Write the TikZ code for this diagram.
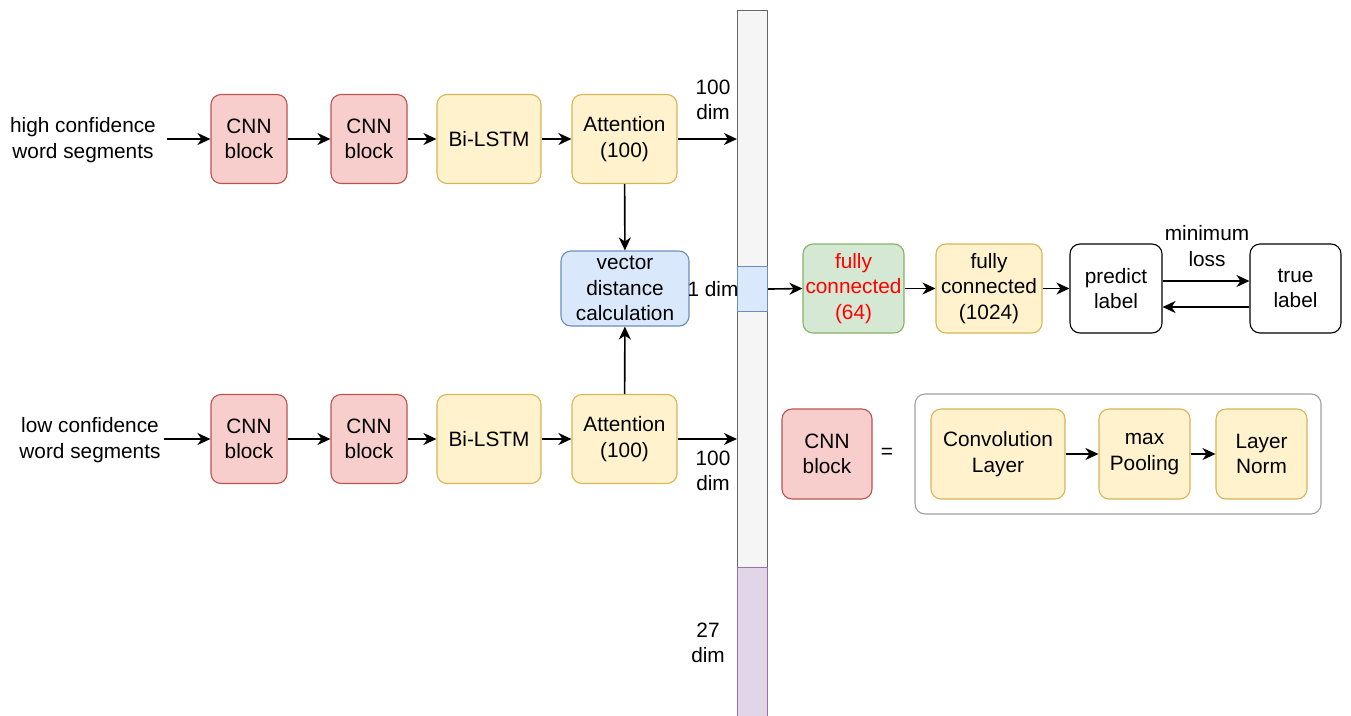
\documentclass[tikz,border=0pt]{standalone}
\usepackage{fontspec}
\setmainfont{Liberation Sans}
\usetikzlibrary{arrows.meta}
\definecolor{redF}{HTML}{F8CECC}\definecolor{redS}{HTML}{B85450}
\definecolor{yelF}{HTML}{FFF2CC}\definecolor{yelS}{HTML}{D6B656}
\definecolor{bluF}{HTML}{DAE8FC}\definecolor{bluS}{HTML}{6C8EBF}
\definecolor{grnF}{HTML}{D5E8D4}\definecolor{grnS}{HTML}{82B366}
\definecolor{purF}{HTML}{E1D5E7}\definecolor{purS}{HTML}{9673A6}
\definecolor{barF}{HTML}{F5F5F5}\definecolor{barS}{HTML}{666666}
\definecolor{boxS}{HTML}{A0A0A0}
\begin{document}
\begin{tikzpicture}[x=1pt,y=-1pt,
  font=\fontsize{20.8}{25.5}\selectfont,
  box/.style={draw, line width=1.1pt, rounded corners=10pt, align=center, inner sep=0pt},
  redbox/.style={box, fill=redF, draw=redS, minimum width=76pt, minimum height=89pt},
  yelbox/.style={box, fill=yelF, draw=yelS, minimum height=89pt},
  blubox/.style={box, fill=bluF, draw=bluS},
  grnbox/.style={box, fill=grnF, draw=grnS},
  whtbox/.style={box, draw=black, fill=white},
  lbl/.style={align=center, inner sep=0pt},
  seg/.style={draw, line width=1.1pt, inner sep=0pt, minimum width=30pt},
  arr/.style={-{Stealth[length=13pt,width=12pt,inset=4pt]}, line width=1.6pt}
]
\useasboundingbox (0,0) rectangle (1351,715);
\clip (0,0) rectangle (1351,715);
% bar
\node[seg, fill=barF, draw=barS, minimum height=720pt, anchor=north west] (bar) at (737,10) {};
\node[seg, fill=bluF, draw=bluS, minimum height=45pt, anchor=north west] (seg1) at (737,266) {};
\node[seg, fill=purF, draw=purS, minimum height=160pt, anchor=north west] (seg27) at (737,567) {};
% top row
\node[lbl] (hi) at (83,140) {high confidence\\word segments};
\node[redbox] (c1) at (249,139) {CNN\\block};
\node[redbox] (c2) at (369,139) {CNN\\block};
\node[yelbox, minimum width=104pt] (l1) at (489,139) {Bi-LSTM};
\node[yelbox, minimum width=105pt] (a1) at (624.5,139) {Attention\\(100)};
% bottom row
\node[lbl] (lo) at (90,440) {low confidence\\word segments};
\node[redbox] (c3) at (249,439) {CNN\\block};
\node[redbox] (c4) at (369,439) {CNN\\block};
\node[yelbox, minimum width=104pt] (l2) at (489,439) {Bi-LSTM};
\node[yelbox, minimum width=105pt] (a2) at (624.5,439) {Attention\\(100)};
% vector distance
\node[blubox, minimum width=128pt, minimum height=75pt] (vd) at (625,288.5) {vector\\distance\\calculation};
% labels near bar
\node[lbl] (d100a) at (713,100) {100\\dim};
\node[lbl] (d100b) at (713,471) {100\\dim};
\node[lbl] (d1) at (713,289) {1 dim};
\node[lbl] (d27) at (708,643) {27\\dim};
% right part
\node[grnbox, minimum width=101pt, minimum height=89pt, text=red] (fc1) at (853.5,288.5) {fully\\connected\\(64)};
\node[yelbox, minimum width=106pt] (fc2) at (989,288.5) {fully\\connected\\(1024)};
\node[whtbox, minimum width=92pt, minimum height=89pt] (pl) at (1116,288.5) {predict\\label};
\node[whtbox, minimum width=91pt, minimum height=89pt] (tl) at (1295.5,288.5) {true\\label};
\node[lbl] (ml) at (1207,246) {minimum\\loss};
% legend
\node[redbox, minimum width=90pt, minimum height=90pt] (lg) at (827,454) {CNN\\block};
\node[lbl] (eq) at (887,453) {=};
\node[box, draw=boxS, fill=none, minimum width=406pt, minimum height=120pt] (cont) at (1118,454) {};
\node[yelbox, minimum width=134pt, minimum height=90pt] (cv) at (998,454) {Convolution\\Layer};
\node[yelbox, minimum width=91pt, minimum height=90pt] (mp) at (1144.5,454) {max\\Pooling};
\node[yelbox, minimum width=91pt, minimum height=90pt] (ln) at (1261.5,454) {Layer\\Norm};
% arrows top
\draw[arr] (hi.east |- c1.west) ++(11,0) coordinate (hs) -- (c1.west);
\draw[arr] (c1) -- (c2);
\draw[arr] (c2) -- (l1);
\draw[arr] (l1) -- (a1);
\draw[arr] (a1.east) -- (a1.east -| bar.west);
\draw[arr] (a1) -- (vd);
% arrows bottom
\draw[arr] (lo.east |- c3.west) ++(3,0) coordinate (ls) -- (c3.west);
\draw[arr] (c3) -- (c4);
\draw[arr] (c4) -- (l2);
\draw[arr] (l2) -- (a2);
\draw[arr] (a2.east) -- (a2.east -| bar.west);
\draw[arr] (a2) -- (vd);
% right arrows
\draw[arr] (seg1.east) -- (fc1.west);
\draw[arr] (fc1) -- (fc2);
\draw[arr] (fc2) -- (pl);
\draw[arr] (pl.east |- 0,281) -- (tl.west |- 0,281);
\draw[arr] (tl.west |- 0,307) -- (pl.east |- 0,307);
\draw[arr] (cv) -- (mp);
\draw[arr] (mp) -- (ln);
\end{tikzpicture}
\end{document}
